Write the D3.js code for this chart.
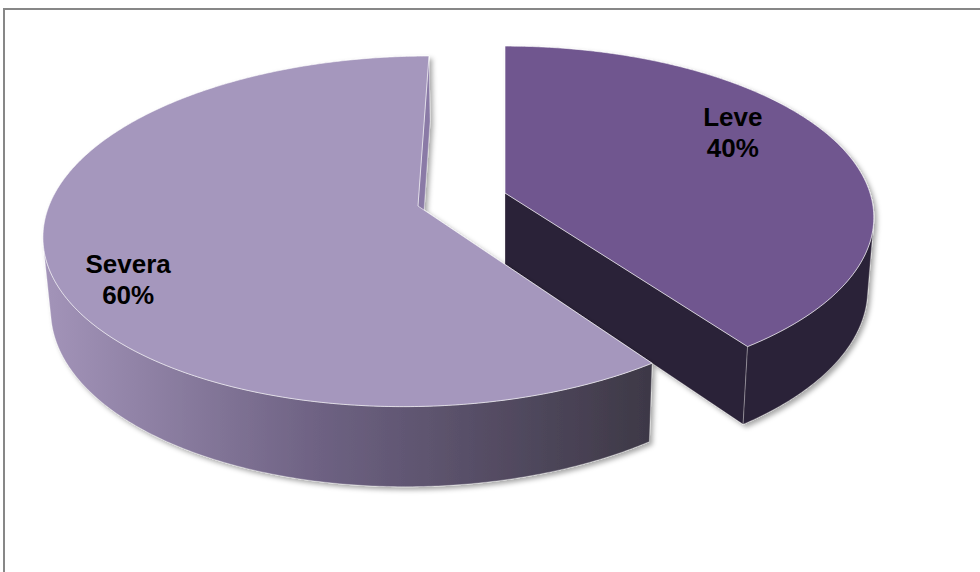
<!DOCTYPE html>
<html>
<head>
<meta charset="utf-8">
<script src="https://cdn.jsdelivr.net/npm/d3@7"></script>
<style>
  html, body { margin: 0; padding: 0; background: #ffffff; }
  svg { display: block; }
</style>
</head>
<body>
<script>
// ---- data ----
const categories = ["Leve", "Severa"];
const values = [40, 60];
const percentLabels = ["40%", "60%"];

// ---- style / layout constants ----
const W = 980, H = 572;
const topColors = ["#70578f", "#a597bd"];
const sideColors = ["#2c2338", null];          // null -> gradient
const cutColors = ["#2c2338", "#8a7aa6"];
const explodeBy = [0, 0.248];
const labelPlace = [{ang: 60, r: 0.76}, {ang: 241, r: 0.83}];

// projection (simple perspective camera)
const cx = 505, cy = 193, S = 365, R = 1, T = 0.224;
const sa = 0.46, ca = Math.sqrt(1 - sa * sa), D = 7 * ca;
function proj(u, w, h) {
  const z = w * ca - h * sa + D;
  const k = S * D / z;
  return [cx + u * k, cy - (w * sa + h * ca) * k];
}

const svg = d3.select("body").append("svg").attr("width", W).attr("height", H);
const defs = svg.append("defs");
const f = defs.append("filter").attr("id", "shadow")
  .attr("x", "-10%").attr("y", "-10%").attr("width", "130%").attr("height", "130%");
f.append("feDropShadow").attr("dx", 3).attr("dy", 3).attr("stdDeviation", 2.5)
  .attr("flood-color", "#000").attr("flood-opacity", 0.35);

// chart border
svg.append("rect").attr("x", 4).attr("y", 9).attr("width", 1000).attr("height", 600)
  .attr("fill", "none").attr("stroke", "#878787").attr("stroke-width", 2);

const pie = d3.pie().sort(null).value(d => d.value).startAngle(0).endAngle(2 * Math.PI);
const slices = pie(categories.map((c, i) => ({name: c, value: values[i], label: percentLabels[i], i})));
const line = d3.line().curve(d3.curveLinearClosed);
const C = [0, -D * ca];

slices.forEach((s, idx) => {
  const a0 = s.startAngle, a1 = s.endAngle, mid = (a0 + a1) / 2;
  const e = explodeBy[idx];
  const off = [e * Math.sin(mid), e * Math.cos(mid)];
  const rimP = (a, h) => proj(off[0] + R * Math.sin(a), off[1] + R * Math.cos(a), h);
  const apex = h => proj(off[0], off[1], h);
  const n = Math.ceil((a1 - a0) / (Math.PI / 360));
  const angs = d3.range(n + 1).map(j => a0 + (a1 - a0) * j / n);
  const g = svg.append("g").attr("filter", "url(#shadow)");

  // cut faces
  [[a0, [-Math.cos(a0), Math.sin(a0)]], [a1, [Math.cos(a1), -Math.sin(a1)]]].forEach(([a, nrm]) => {
    const P = [off[0] + 0.5 * Math.sin(a), off[1] + 0.5 * Math.cos(a)];
    const dot = nrm[0] * (C[0] - P[0]) + nrm[1] * (C[1] - P[1]);
    if (dot > 0.01) {
      g.append("path").attr("d", line([apex(0), rimP(a, 0), rimP(a, -T), apex(-T)]))
        .attr("fill", cutColors[idx]).attr("stroke", "rgba(255,255,255,0.35)").attr("stroke-width", 0.8);
    }
  });

  // outer side
  const vis = angs.filter(a => {
    const P = [off[0] + Math.sin(a), off[1] + Math.cos(a)];
    return Math.sin(a) * (C[0] - P[0]) + Math.cos(a) * (C[1] - P[1]) > 0;
  });
  if (vis.length > 1) {
    const pts = vis.map(a => rimP(a, 0)).concat(vis.slice().reverse().map(a => rimP(a, -T)));
    let fill = sideColors[idx];
    if (!fill) {
      const xs = pts.map(p => p[0]);
      const gid = "sideGrad" + idx;
      const lg = defs.append("linearGradient").attr("id", gid).attr("gradientUnits", "userSpaceOnUse")
        .attr("x1", d3.min(xs)).attr("x2", d3.max(xs)).attr("y1", 0).attr("y2", 0);
      lg.append("stop").attr("offset", "0%").attr("stop-color", "#a394b9");
      lg.append("stop").attr("offset", "45%").attr("stop-color", "#6e6283");
      lg.append("stop").attr("offset", "100%").attr("stop-color", "#3d3846");
      fill = `url(#${gid})`;
    }
    g.append("path").attr("d", line(pts)).attr("fill", fill)
      .attr("stroke", "rgba(255,255,255,0.35)").attr("stroke-width", 0.8);
  }

  // top face
  const topPts = [apex(0)].concat(angs.map(a => rimP(a, 0)));
  g.append("path").attr("d", line(topPts)).attr("fill", topColors[idx])
    .attr("stroke", "rgba(255,255,255,0.6)").attr("stroke-width", 1);
});

// labels
slices.forEach((s, idx) => {
  const e = explodeBy[idx], mid = (s.startAngle + s.endAngle) / 2;
  const lp = labelPlace[idx], a = lp.ang * Math.PI / 180;
  const p = proj(e * Math.sin(mid) + lp.r * Math.sin(a), e * Math.cos(mid) + lp.r * Math.cos(a), 0);
  const t = svg.append("text").attr("text-anchor", "middle")
    .attr("font-family", "'Liberation Sans', Arial, sans-serif").attr("font-weight", "bold")
    .attr("font-size", 26).attr("fill", "#000");
  t.append("tspan").attr("x", p[0]).attr("y", p[1] - 6).text(s.data.name);
  t.append("tspan").attr("x", p[0]).attr("y", p[1] + 25).text(s.data.label);
});
</script>
</body>
</html>
